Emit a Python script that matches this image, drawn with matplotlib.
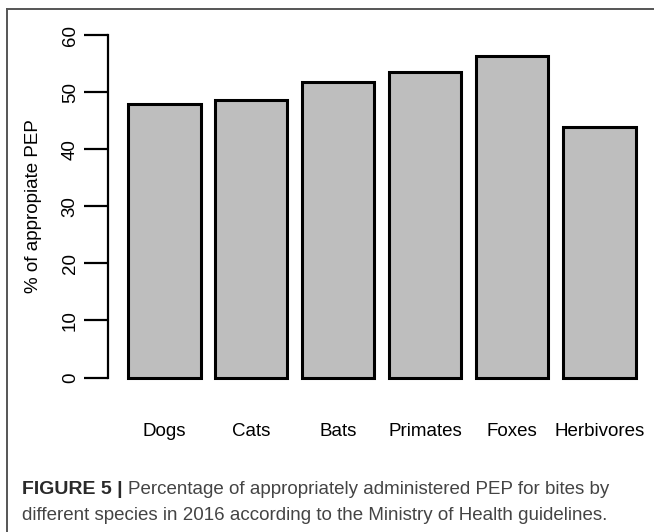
import matplotlib
matplotlib.use('Agg')
import matplotlib.pyplot as plt
from matplotlib.lines import Line2D
import numpy as np

species = ['Dogs', 'Cats', 'Bats', 'Primates', 'Foxes', 'Herbivores']
pct_appropriate = [48.0, 48.7, 51.7, 53.5, 56.3, 43.8]
y_ticks = [0, 10, 20, 30, 40, 50, 60]

plt.rcParams['font.family'] = ['Liberation Sans', 'DejaVu Sans']

W, H = 654, 532
fig = plt.figure(figsize=(W / 100, H / 100), dpi=100)

# axes placed in pixels: left 108, right 654, top 20, bottom 395
ax = fig.add_axes([108 / W, (H - 395) / H, (654 - 108) / W, 375 / H])

# R barplot style: width 1, space 0.2
x = 0.7 + 1.2 * np.arange(len(species))
ax.bar(x, pct_appropriate, width=1.0, color='#BEBEBE', edgecolor='black', linewidth=2.2)
ax.set_xlim(0.2 - 20 / 72.5, 0.2 + 526 / 72.5)
ax.set_ylim((377.5 - 395) / 5.708, (377.5 - 20) / 5.708)

for s in ['top', 'right', 'bottom']:
    ax.spines[s].set_visible(False)
ax.spines['left'].set_bounds(0, 60)
ax.spines['left'].set_linewidth(1.6)
ax.set_yticks(y_ticks)
ax.set_yticklabels([str(t) for t in y_ticks], rotation=90, va='center', fontsize=13.5)
ax.tick_params(axis='y', length=17, width=1.6, pad=4)
ax.set_xticks([])

for xi, name in zip(x, species):
    ax.text(xi, -9.4, name, ha='center', va='center', fontsize=13.5)

fig.text(34 / W, 1 - 206 / H, '% of appropiate PEP', rotation=90, ha='center', va='center', fontsize=13.5)

# frame lines of the figure panel
fig.add_artist(Line2D([7 / W, 1], [1 - 8.5 / H, 1 - 8.5 / H], color='#555555', linewidth=1.4))
fig.add_artist(Line2D([7 / W, 7 / W], [0, 1 - 8.5 / H], color='#555555', linewidth=1.4))

cap_font = ['Liberation Sans Narrow', 'Liberation Sans', 'DejaVu Sans']
t = fig.text(22 / W, 1 - 490 / H, 'FIGURE 5 |', fontsize=14, fontweight='bold', color='#2a2a2a',
             family=cap_font, va='center', ha='left')
fig.canvas.draw()
bb = t.get_window_extent()
fig.text((bb.x1 + 5) / W, 1 - 490 / H, 'Percentage of appropriately administered PEP for bites by',
         fontsize=13.5, color='#444444', family=cap_font, va='center', ha='left')
fig.text(22 / W, 1 - 516 / H, 'different species in 2016 according to the Ministry of Health guidelines.',
         fontsize=13.5, color='#444444', family=cap_font, va='center', ha='left')

fig.savefig('out.png', dpi=100)
